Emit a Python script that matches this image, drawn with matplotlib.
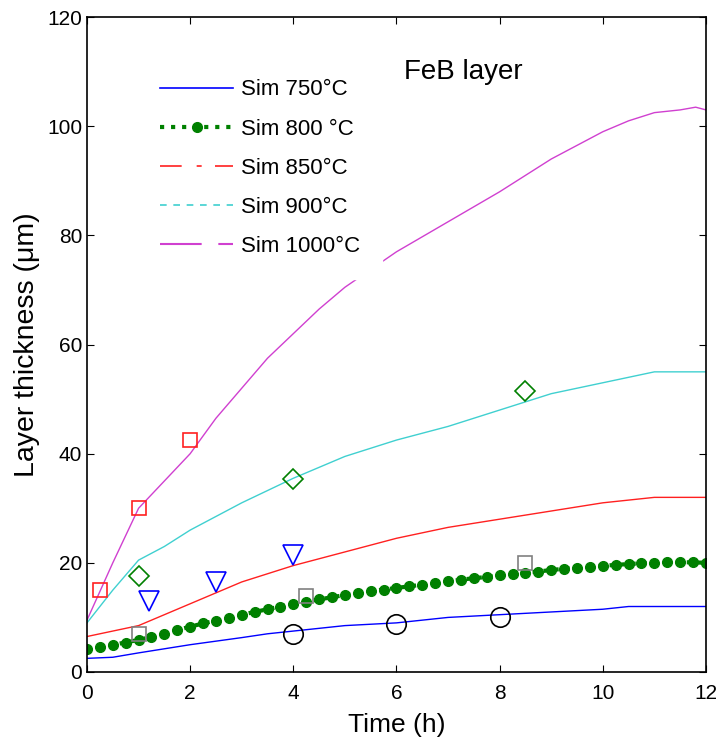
import matplotlib.pyplot as plt
from matplotlib.lines import Line2D

plt.rcParams['font.family'] = ['Liberation Sans', 'DejaVu Sans']

# Simulated curves (time in h, thickness in um)
t_750 = [0, 0.5, 1, 2, 3, 3.5, 4, 5, 6, 7, 8, 9, 10, 10.5, 12]
y_750 = [2.5, 2.7, 3.5, 5.0, 6.3, 7.0, 7.5, 8.5, 9.0, 10.0, 10.5, 11.0, 11.5, 12.0, 12.0]

t_800 = [i * 0.25 for i in range(49)]
y_800 = [4.3, 4.6, 5.0, 5.4, 5.9, 6.4, 7.0, 7.7, 8.3, 8.9, 9.4, 9.9, 10.5, 11.0, 11.5, 12.0,
         12.5, 12.9, 13.3, 13.7, 14.1, 14.4, 14.8, 15.1, 15.4, 15.7, 16.0, 16.3, 16.6, 16.9,
         17.2, 17.4, 17.7, 17.9, 18.2, 18.4, 18.7, 18.9, 19.1, 19.3, 19.5, 19.6, 19.8, 19.9,
         20.0, 20.1, 20.1, 20.1, 20.0]

t_850 = [0, 1, 2, 3, 4, 5, 6, 7, 8, 9, 10, 11, 12]
y_850 = [6.5, 8.5, 12.5, 16.5, 19.5, 22.0, 24.5, 26.5, 28.0, 29.5, 31.0, 32.0, 32.0]

t_900 = [0, 0.5, 1, 1.5, 2, 3, 4, 5, 6, 7, 8, 8.5, 9, 10, 11, 12]
y_900 = [9.0, 15.0, 20.5, 23.0, 26.0, 31.0, 35.5, 39.5, 42.5, 45.0, 48.0, 49.5, 51.0, 53.0, 55.0, 55.0]

t_1000 = [0, 0.5, 1, 1.5, 2, 2.5, 3, 3.5, 4, 4.5, 5, 6, 7, 8, 9, 10, 10.5, 11, 11.5, 11.8, 12]
y_1000 = [9.5, 20.0, 30.0, 35.0, 40.0, 46.5, 52.0, 57.5, 62.0, 66.5, 70.5, 77.0, 82.5, 88.0,
          94.0, 99.0, 101.0, 102.5, 103.0, 103.5, 103.0]

# Experimental points
exp_1000_t = [0.25, 1, 2]
exp_1000_y = [15, 30, 42.5]
exp_900_t = [1, 4, 8.5]
exp_900_y = [17.5, 35.3, 51.5]
exp_850_t = [1.2, 2.5, 4]
exp_850_y = [13, 16.5, 21.5]
exp_800_t = [1, 4.25, 8.5]
exp_800_y = [7, 14, 20]
exp_750_t = [4, 6, 8]
exp_750_y = [7, 8.8, 10]

c_blue = '#0000ff'
c_green = '#008000'
c_red = '#ff2020'
c_cyan = '#40d0d0'
c_mag = '#d040d0'

fig = plt.figure(figsize=(7.16, 7.45), dpi=100)
ax = fig.add_axes([0.1215, 0.098, 0.8645, 0.879])

ax.plot(t_750, y_750, color=c_blue, lw=1)
ax.plot(t_800, y_800, color=c_green, lw=3, ls=':', marker='o', ms=7)
ax.plot(t_850, y_850, color=c_red, lw=1)
ax.plot(t_900, y_900, color=c_cyan, lw=1)
ax.plot(t_1000, y_1000, color=c_mag, lw=1)

ax.plot(exp_1000_t, exp_1000_y, 's', mfc='none', mec=c_red, ms=10, mew=1.2)
ax.plot(exp_900_t, exp_900_y, 'D', mfc='none', mec=c_green, ms=10, mew=1.2)
ax.plot(exp_850_t, exp_850_y, 'v', mfc='none', mec=c_blue, ms=15, mew=1.2)
ax.plot(exp_800_t, exp_800_y, 's', mfc='none', mec='#808080', ms=10, mew=1.2)
ax.plot(exp_750_t, exp_750_y, 'o', mfc='none', mec='black', ms=14, mew=1.2)

handles = [
    Line2D([], [], color=c_blue, lw=1.2),
    Line2D([], [], color=c_green, lw=3, ls=':', marker='o', ms=7),
    Line2D([], [], color=c_red, lw=1.2, ls=(0, (13, 9, 3, 8))),
    Line2D([], [], color=c_cyan, lw=1.2, ls=(0, (4, 4))),
    Line2D([], [], color=c_mag, lw=1.5, ls=(0, (20, 8))),
]
labels = ['Sim 750°C', 'Sim 800 °C', 'Sim 850°C', 'Sim 900°C', 'Sim 1000°C']
leg = ax.legend(handles, labels, loc='upper left', bbox_to_anchor=(0.082, 0.939),
                fontsize=16, frameon=True, framealpha=1, edgecolor='white',
                handlelength=3.3, handletextpad=0.35, labelspacing=0.82,
                borderpad=1.0, borderaxespad=0, fancybox=False)

ax.text(6.15, 110, 'FeB layer', fontsize=20, ha='left', va='center')

ax.set_xlim(0, 12)
ax.set_ylim(0, 120)
ax.set_xticks(range(0, 13, 2))
ax.set_yticks(range(0, 121, 20))
ax.tick_params(direction='in', top=True, right=True, labelsize=15, length=5)
ax.tick_params(axis='x', pad=9)
ax.set_xlabel('Time (h)', fontsize=19, labelpad=7)
ax.set_ylabel('Layer thickness (μm)', fontsize=20.5, labelpad=5)
for s in ax.spines.values():
    s.set_linewidth(1.2)

fig.savefig('out.png', dpi=100)
